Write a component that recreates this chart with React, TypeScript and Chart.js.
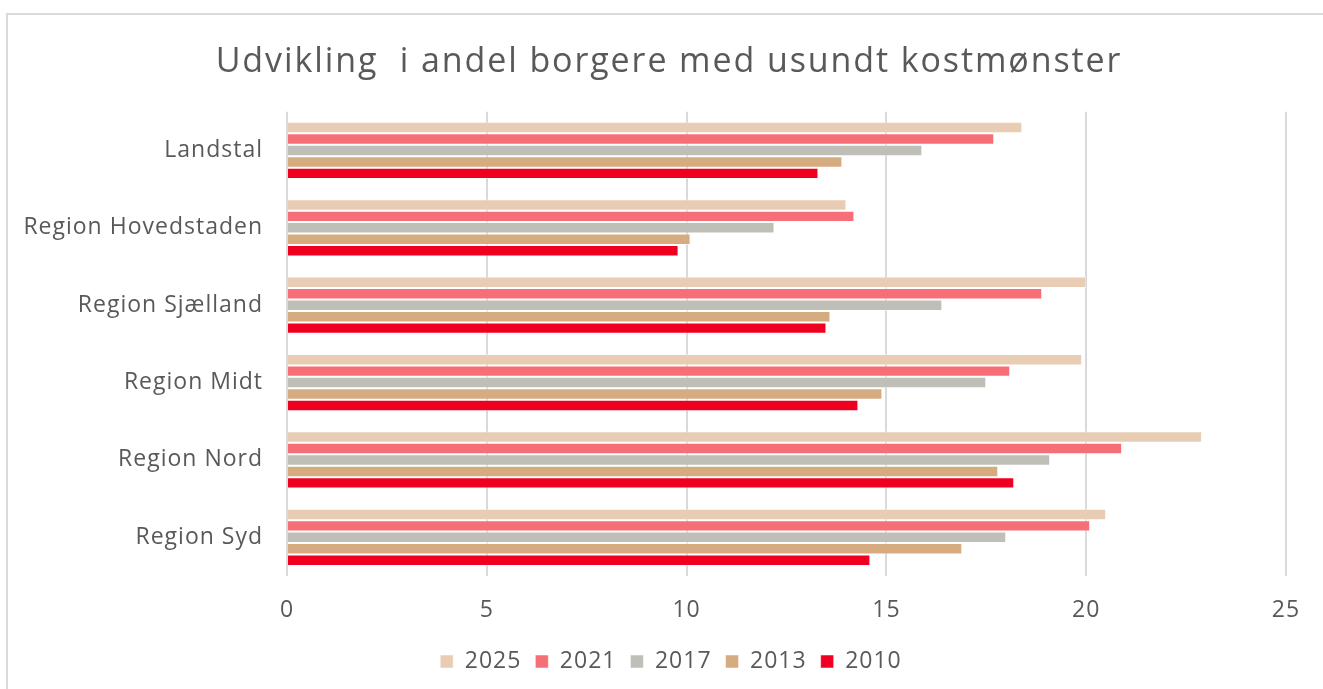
import React, { useEffect, useRef } from "react";
import { Chart, registerables } from "chart.js";

Chart.register(...registerables);

const categories = [
  "Landstal",
  "Region Hovedstaden",
  "Region Sjælland",
  "Region Midt",
  "Region Nord",
  "Region Syd",
];

const seriesLabels = ["2025", "2021", "2017", "2013", "2010"];
const seriesColors = ["#E8CDB4", "#F76F76", "#BFBFB7", "#D6AB80", "#F00020"];

const values2025 = [18.4, 14.0, 20.0, 19.9, 22.9, 20.5];
const values2021 = [17.7, 14.2, 18.9, 18.1, 20.9, 20.1];
const values2017 = [15.9, 12.2, 16.4, 17.5, 19.1, 18.0];
const values2013 = [13.9, 10.1, 13.6, 14.9, 17.8, 16.9];
const values2010 = [13.3, 9.8, 13.5, 14.3, 18.2, 14.6];

const xTicks = [0, 5, 10, 15, 20, 25];

const FONT = "'Open Sans', sans-serif";
const TEXT = "#595959";

function wrapDraw(chart: any, box: any, dx: number, spacing: string) {
  if (!box || box.__wrapped) return;
  const orig = box.draw.bind(box);
  box.draw = (...args: any[]) => {
    const ctx = chart.ctx;
    ctx.save();
    ctx.translate(dx, 0);
    ctx.letterSpacing = spacing;
    orig(...args);
    ctx.restore();
  };
  box.__wrapped = true;
}

const spacingPlugin = {
  id: "letterSpacing",
  beforeUpdate(chart: any) {
    chart.ctx.letterSpacing = "1px";
  },
  afterLayout(chart: any) {
    wrapDraw(chart, chart.titleBlock, 26, "1.9px");
    wrapDraw(chart, chart.legend, 28, "1px");
  },
  beforeDraw(chart: any) {
    chart.ctx.letterSpacing = "1px";
  },
};

export default function App() {
  const ref = useRef<HTMLCanvasElement | null>(null);

  useEffect(() => {
    if (!ref.current) return;
    const seriesValues = [values2025, values2021, values2017, values2013, values2010];
    const chart = new Chart(ref.current, {
      type: "bar",
      plugins: [spacingPlugin],
      data: {
        labels: categories,
        datasets: seriesLabels.map((l, i) => ({
          label: l,
          data: seriesValues[i],
          backgroundColor: seriesColors[i],
          borderColor: "rgba(255,255,255,0.5)",
          borderWidth: 1,
          categoryPercentage: 0.74,
          barPercentage: 1.0,
        })),
      },
      options: {
        indexAxis: "y",
        animation: false,
        responsive: false,
        devicePixelRatio: 1,
        layout: { padding: { left: 0, right: 37, top: 0, bottom: 6 } },
        plugins: {
          tooltip: { enabled: false },
          title: {
            display: true,
            text: "Udvikling  i andel borgere med usundt kostmønster",
            color: TEXT,
            font: { family: FONT, size: 34, weight: "normal" },
            padding: { top: 42, bottom: 29 },
          },
          legend: {
            position: "bottom",
            labels: {
              color: TEXT,
              font: { family: FONT, size: 23 },
              boxWidth: 13,
              boxHeight: 13,
              padding: 14,
            },
          },
        },
        scales: {
          x: {
            min: 0,
            max: 25,
            afterBuildTicks: (s: any) => {
              s.ticks = xTicks.map((v) => ({ value: v }));
            },
            afterFit: (s: any) => {
              s.height = 60;
            },
            grid: { color: "#D9D9D9", lineWidth: 2, drawTicks: false },
            border: { display: false },
            ticks: {
              color: TEXT,
              font: { family: FONT, size: 23 },
              padding: 21,
            },
          },
          y: {
            afterFit: (s: any) => {
              s.width = 287;
            },
            grid: { display: false, drawTicks: false },
            border: { display: false },
            ticks: {
              color: TEXT,
              font: { family: FONT, size: 23 },
              padding: 24,
            },
          },
        },
      },
    });
    return () => chart.destroy();
  }, []);

  return (
    <div style={{ position: "fixed", left: 0, top: 0, width: 1323, height: 689, background: "#fff", overflow: "hidden" }}>
      <div
        style={{
          position: "absolute",
          left: 6,
          top: 13,
          width: 1317,
          height: 676,
          borderTop: "2px solid #D9D9D9",
          borderLeft: "2px solid #D9D9D9",
          boxSizing: "border-box",
        }}
      />
      <canvas ref={ref} width={1323} height={689} style={{ position: "absolute", left: 0, top: 0 }} />
    </div>
  );
}
